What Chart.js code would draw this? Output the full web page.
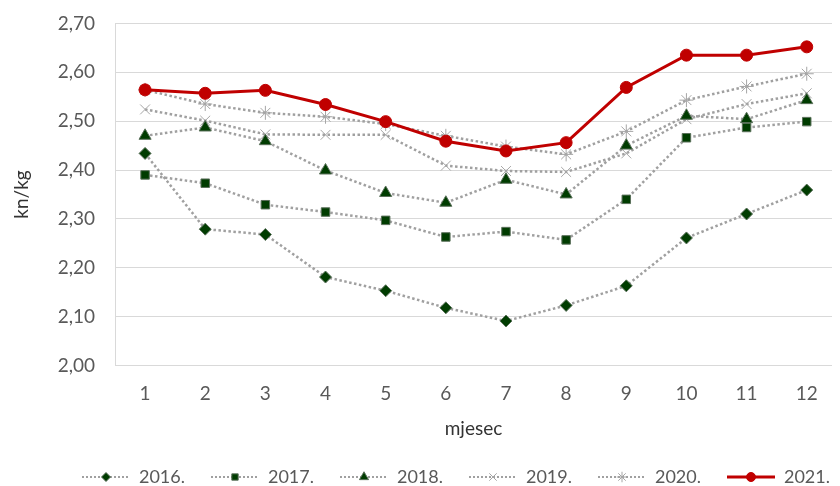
<!DOCTYPE html>
<html>
<head>
<meta charset="utf-8">
<script src="https://cdn.jsdelivr.net/npm/chart.js@4"></script>
<style>
  html, body { margin: 0; padding: 0; background: #fff; overflow: hidden; }
  #wrap { width: 840px; height: 486px; }
</style>
</head>
<body>
<div id="wrap"><canvas id="chart"></canvas></div>
<script>
var months = [1, 2, 3, 4, 5, 6, 7, 8, 9, 10, 11, 12];
var years = ['2016.', '2017.', '2018.', '2019.', '2020.', '2021.'];
var yTicks = [2.0, 2.1, 2.2, 2.3, 2.4, 2.5, 2.6, 2.7];

var v2016 = [2.434, 2.279, 2.268, 2.181, 2.153, 2.118, 2.091, 2.123, 2.163, 2.261, 2.310, 2.359];
var v2017 = [2.390, 2.373, 2.329, 2.314, 2.297, 2.263, 2.274, 2.257, 2.340, 2.466, 2.487, 2.499];
var v2018 = [2.470, 2.487, 2.459, 2.399, 2.353, 2.333, 2.380, 2.350, 2.450, 2.511, 2.504, 2.543];
var v2019 = [2.524, 2.501, 2.473, 2.472, 2.472, 2.409, 2.398, 2.396, 2.434, 2.504, 2.535, 2.557];
var v2020 = [2.564, 2.535, 2.517, 2.509, 2.494, 2.470, 2.448, 2.432, 2.479, 2.543, 2.571, 2.597];
var v2021 = [2.564, 2.557, 2.563, 2.534, 2.499, 2.459, 2.439, 2.456, 2.569, 2.635, 2.635, 2.652];

var allValues = [v2016, v2017, v2018, v2019, v2020, v2021];

var textColor = '#595959';
var titleColor = '#333333';
var dotColor = '#a0a0a0';
var green = '#003c00';
var greenEdge = '#5a705a';
var grayMark = '#a6a6a6';
var red = '#c00000';

var styles = [
    { point: 'rectRot', radius: 6, fill: green, edge: greenEdge, line: dotColor, dash: [2.5, 2.5], width: 2.5 },
    { point: 'rect', radius: 6, fill: green, edge: greenEdge, line: dotColor, dash: [2.5, 2.5], width: 2.5 },
    { point: 'triangle', radius: 7, fill: green, edge: greenEdge, line: dotColor, dash: [2.5, 2.5], width: 2.5 },
    { point: 'crossRot', radius: 7, fill: grayMark, edge: grayMark, line: dotColor, dash: [2.5, 2.5], width: 2.5 },
    { point: 'star', radius: 7, fill: grayMark, edge: grayMark, line: dotColor, dash: [2.5, 2.5], width: 2.5 },
    { point: 'circle', radius: 6, fill: red, edge: red, line: red, dash: [], width: 3 }
];

// legend icons: line with the marker in the middle, blank space on the left works as item spacing
var ICON_W = 64;
function legendIcon(st) {
    var c = document.createElement('canvas');
    c.width = ICON_W;
    c.height = 18;
    var ctx = c.getContext('2d');
    ctx.strokeStyle = st.line;
    ctx.lineWidth = st.dash.length ? 2 : 3;
    ctx.setLineDash(st.dash.length ? [2, 2] : []);
    ctx.beginPath();
    ctx.moveTo(ICON_W - 48, 9);
    ctx.lineTo(ICON_W, 9);
    ctx.stroke();
    ctx.setLineDash([]);
    ctx.fillStyle = st.fill;
    ctx.strokeStyle = st.edge;
    ctx.lineWidth = 1;
    Chart.helpers.drawPoint(ctx, { pointStyle: st.point, radius: st.radius * 0.75, rotation: 0, borderWidth: 1 }, ICON_W - 24, 9);
    return c;
}

var datasets = years.map(function (y, i) {
    var st = styles[i];
    return {
        label: y,
        data: months.map(function (m, j) { return { x: m, y: allValues[i][j] }; }),
        borderColor: st.line,
        borderWidth: st.width,
        borderDash: st.dash,
        borderCapStyle: 'butt',
        pointStyle: st.point,
        pointRadius: st.radius,
        pointBackgroundColor: st.fill,
        pointBorderColor: st.edge,
        pointBorderWidth: 1,
        tension: 0,
        order: i === 5 ? 0 : 1
    };
});

var icons = styles.map(legendIcon);

new Chart(document.getElementById('chart'), {
    type: 'line',
    data: { datasets: datasets },
    options: {
        responsive: true,
        maintainAspectRatio: false,
        animation: false,
        layout: { padding: { top: 15, right: 0, bottom: -10, left: 0 } },
        plugins: {
            tooltip: { enabled: false },
            legend: {
                position: 'bottom',
                align: 'end',
                labels: {
                    usePointStyle: true,
                    pointStyleWidth: ICON_W,
                    padding: 10,
                    color: textColor,
                    font: { family: 'Lato', size: 18 },
                    generateLabels: function (chart) {
                        var items = Chart.defaults.plugins.legend.labels.generateLabels(chart);
                        items.forEach(function (it) { it.pointStyle = icons[it.datasetIndex]; });
                        return items;
                    },
                    sort: function (a, b) { return a.datasetIndex - b.datasetIndex; }
                }
            }
        },
        scales: {
            x: {
                type: 'linear',
                min: 0.5,
                max: 12.42,
                afterBuildTicks: function (axis) {
                    axis.ticks = months.map(function (m) { return { value: m }; });
                },
                afterFit: function (axis) { axis.height = 92.5; },
                grid: { display: false, drawTicks: false },
                border: { display: false },
                ticks: {
                    color: textColor,
                    font: { family: 'Lato', size: 19 },
                    padding: 17,
                    maxRotation: 0,
                    autoSkip: false,
                    callback: function (v) { return String(v); }
                },
                title: {
                    display: true,
                    text: 'mjesec',
                    color: titleColor,
                    font: { family: 'Lato', size: 19 },
                    padding: { top: 0, bottom: 18 }
                }
            },
            y: {
                min: 2.0,
                max: 2.7,
                afterBuildTicks: function (axis) {
                    axis.ticks = yTicks.map(function (t) { return { value: t }; });
                },
                afterFit: function (axis) { axis.width = 115; },
                grid: { color: '#d9d9d9', lineWidth: 1, drawTicks: true, tickLength: 8, tickColor: 'rgba(0,0,0,0)' },
                border: { display: true, color: '#d9d9d9', width: 1 },
                ticks: {
                    color: textColor,
                    font: { family: 'Lato', size: 19 },
                    padding: 12,
                    callback: function (v) { return v.toFixed(2).replace('.', ','); }
                },
                title: {
                    display: true,
                    text: 'kn/kg',
                    color: titleColor,
                    font: { family: 'Lato', size: 19 },
                    padding: { top: 10, bottom: 0 }
                }
            }
        }
    }
});
</script>
</body>
</html>
